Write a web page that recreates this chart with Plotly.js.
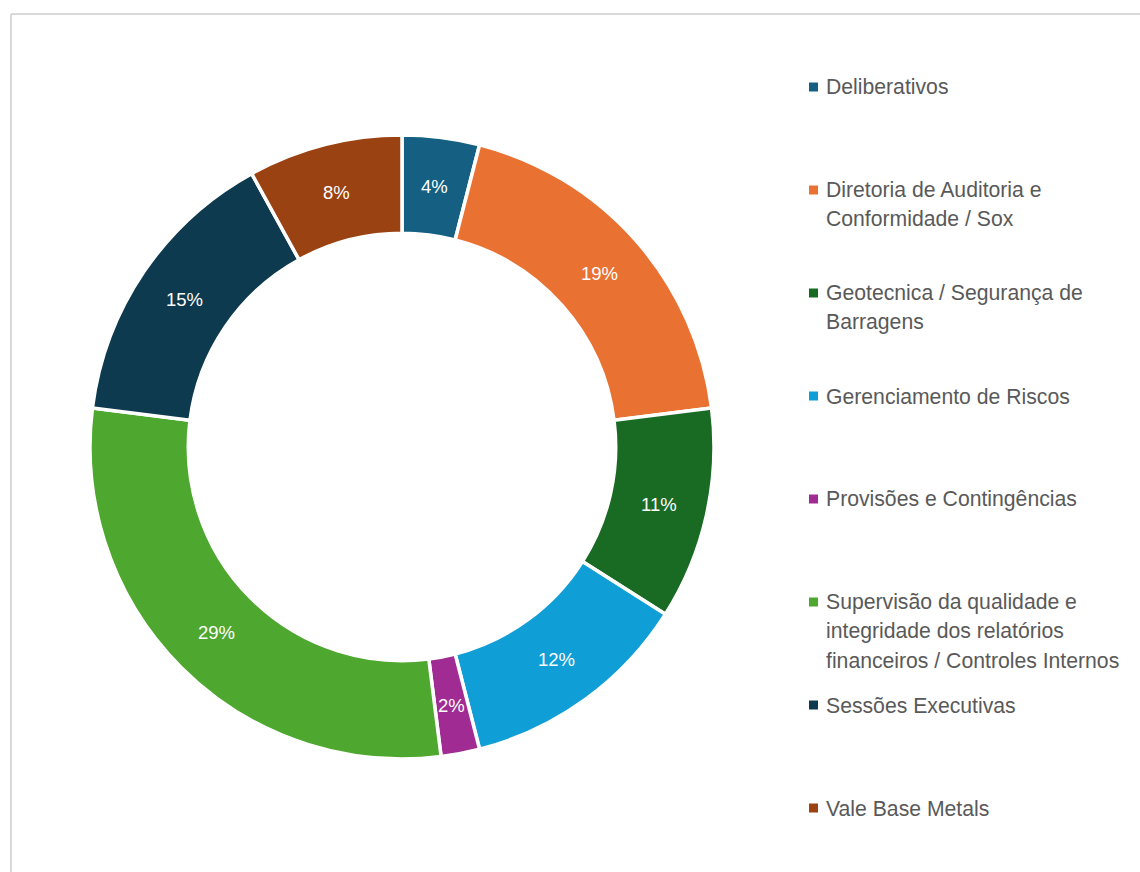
<!DOCTYPE html>
<html>
<head>
<meta charset="utf-8">
<script src="https://cdn.plot.ly/plotly-3.0.1.min.js"></script>
<style>html,body{margin:0;padding:0;background:#fff;}#chart{width:1140px;height:872px;}</style>
</head>
<body>
<div id="chart"></div>
<script>
// Data
const categories = [
  'Deliberativos',
  'Diretoria de Auditoria e Conformidade / Sox',
  'Geotecnica / Segurança de Barragens',
  'Gerenciamento de Riscos',
  'Provisões e Contingências',
  'Supervisão da qualidade e integridade dos relatórios financeiros / Controles Internos',
  'Sessões Executivas',
  'Vale Base Metals'
];
const values = [4, 19, 11, 12, 2, 29, 15, 8];
const colors = ['#156082', '#E97132', '#196B24', '#0F9ED5', '#A02B93', '#4EA72E', '#0D3A4E', '#9A4211'];
const legendLines = [
  ['Deliberativos'],
  ['Diretoria de Auditoria e', 'Conformidade / Sox'],
  ['Geotecnica / Segurança de', 'Barragens'],
  ['Gerenciamento de Riscos'],
  ['Provisões e Contingências'],
  ['Supervisão da qualidade e', 'integridade dos relatórios', 'financeiros / Controles Internos'],
  ['Sessões Executivas'],
  ['Vale Base Metals']
];

const W = 1140, H = 872;
const px = x => x / W;
const py = y => 1 - y / H;

// pie geometry (pixels)
const CX = 402, CY = 447, R = 312, HOLE = 0.685;

const trace = {
  type: 'pie',
  labels: categories,
  values: values,
  sort: false,
  direction: 'clockwise',
  rotation: 0,
  hole: HOLE,
  marker: {colors: colors, line: {color: '#ffffff', width: 3.5}},
  textinfo: 'none',
  domain: {x: [px(CX - R), px(CX + R)], y: [py(CY + R), py(CY - R)]},
  hoverinfo: 'label+percent',
  showlegend: false
};

const annotations = [];
// slice percentage labels at mid-ring, derived from the values
const total = values.reduce((a, b) => a + b, 0);
const rMid = R * (1 + HOLE) / 2;
let cum = 0;
values.forEach((v, i) => {
  const ang = (cum + v / 2) / total * 2 * Math.PI;
  cum += v;
  annotations.push({xref: 'paper', yref: 'paper',
    x: px(CX + rMid * Math.sin(ang)), y: py(CY - rMid * Math.cos(ang)),
    xanchor: 'center', yanchor: 'middle', showarrow: false,
    text: Math.round(v / total * 100) + '%',
    font: {family: 'Liberation Sans, Arial, sans-serif', size: 18.5, color: '#ffffff'}});
});

const shapes = [
  {type: 'line', xref: 'paper', yref: 'paper', x0: px(11), y0: py(14), x1: 1, y1: py(14), line: {color: '#d9d9d9', width: 2}},
  {type: 'line', xref: 'paper', yref: 'paper', x0: px(11), y0: py(14), x1: px(11), y1: 0, line: {color: '#d9d9d9', width: 2}}
];
legendLines.forEach((lines, i) => {
  const top = 87 + 103 * i;
  shapes.push({type: 'rect', xref: 'paper', yref: 'paper',
    x0: px(809), x1: px(818), y0: py(top - 4.5), y1: py(top + 4.5),
    fillcolor: colors[i], line: {width: 0}});
  lines.forEach((t, j) => {
    annotations.push({xref: 'paper', yref: 'paper', x: px(824), y: py(top + 29 * j),
      xanchor: 'left', yanchor: 'middle', showarrow: false, text: t,
      font: {family: 'Liberation Sans, Arial, sans-serif', size: 21.2, color: '#595959'}});
  });
});

const layout = {
  width: W, height: H,
  margin: {l: 0, r: 0, t: 0, b: 0},
  paper_bgcolor: '#ffffff',
  showlegend: false,
  annotations: annotations,
  shapes: shapes
};

Plotly.newPlot('chart', [trace], layout, {displayModeBar: false, staticPlot: true});
</script>
</body>
</html>
